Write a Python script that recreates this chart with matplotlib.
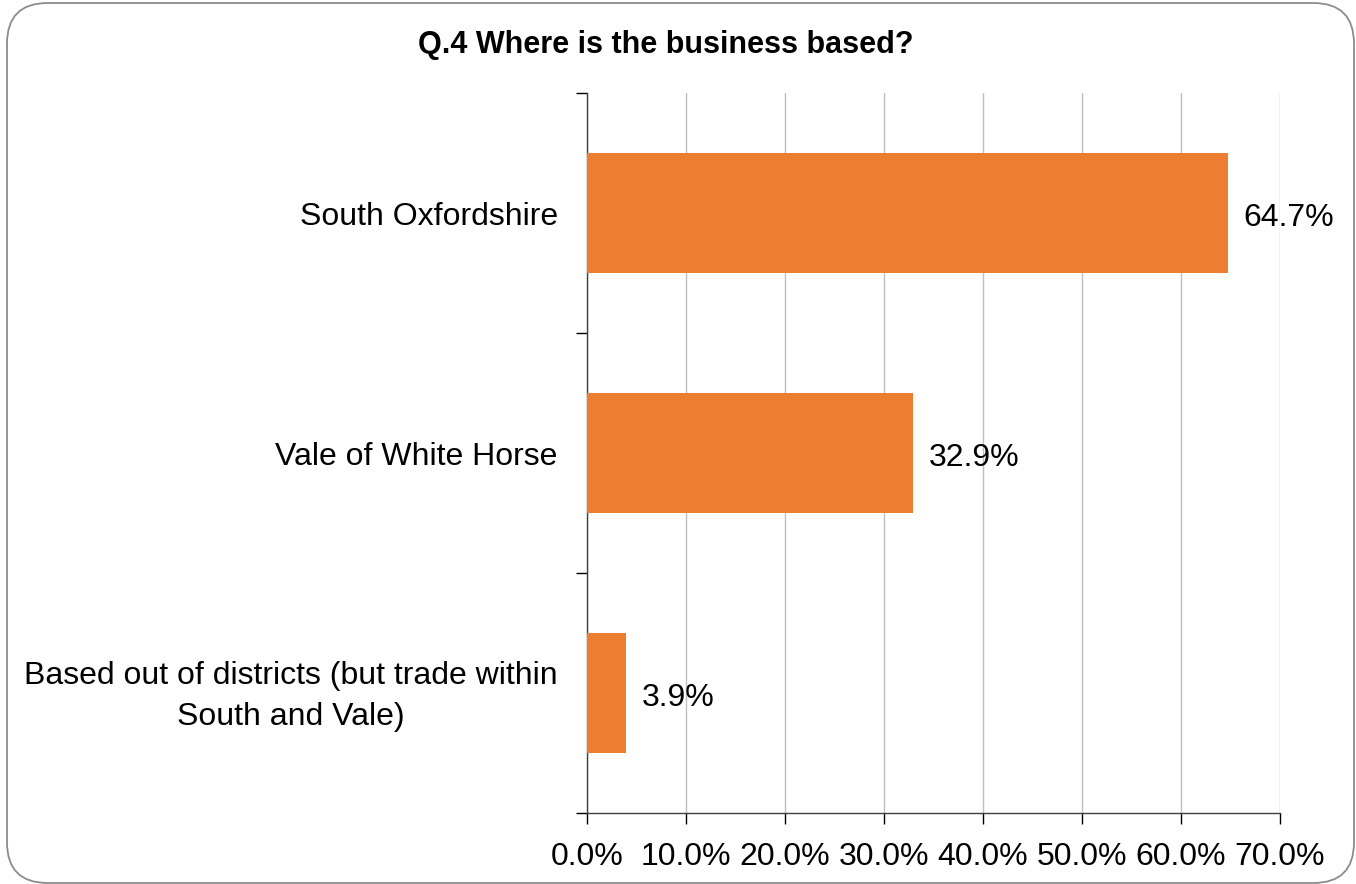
import matplotlib
matplotlib.use("Agg")
import matplotlib.pyplot as plt
from matplotlib.patches import FancyBboxPatch

plt.rcParams['font.family'] = ['Liberation Sans', 'DejaVu Sans']

categories = ["South Oxfordshire", "Vale of White Horse",
              "Based out of districts (but trade within\nSouth and Vale)"]
values = [64.7, 32.9, 3.9]
x_ticks = [0, 10, 20, 30, 40, 50, 60, 70]
x_tick_labels = [f"{t:.1f}%" for t in x_ticks]
title = "Q.4 Where is the business based?"

W, H = 1356, 884
fig = plt.figure(figsize=(W / 100, H / 100), dpi=100)

# rounded chart frame
frame = FancyBboxPatch((7 / W, 1 / H), (1354 - 7) / W, (881 - 1) / H,
                       boxstyle="round,pad=0,rounding_size=0.03",
                       transform=fig.transFigure, facecolor="none",
                       edgecolor="#8c8c8c", linewidth=1.3, zorder=0,
                       mutation_aspect=W / H)
fig.patches.append(frame)

left, right, top, bottom = 587, 1280, 93, 813
ax = fig.add_axes([left / W, 1 - bottom / H, (right - left) / W, (bottom - top) / H])
ax.set_facecolor("none")

ypos = list(range(len(categories)))
ax.barh(ypos, values, height=0.5, color="#ED7D31", zorder=3)
ax.set_ylim(len(categories) - 0.5, -0.5)
ax.set_xlim(0, 70)

for y, v in zip(ypos, values):
    ax.text(v + 1.65, y + 0.02, f"{v:.1f}%", va="center", ha="left",
            fontsize=23, zorder=4)

ax.set_xticks(x_ticks)
ax.set_xticklabels(x_tick_labels, fontsize=23)
ax.tick_params(axis="x", length=8, width=1, direction="out", pad=13, colors="black")

ax.set_yticks([-0.5, 0.5, 1.5, 2.5])
ax.set_yticklabels([])
ax.tick_params(axis="y", length=8, width=1, direction="out")
for y, lab in zip(ypos, categories):
    ax.text(-2.95, y + 0.015, lab, ha="right", va="center", multialignment="center",
            linespacing=1.45, fontsize=23, transform=ax.transData)

ax.grid(axis="x", color="#bfbfbf", linewidth=1, zorder=0)
ax.set_axisbelow(True)
for side in ["top", "right"]:
    ax.spines[side].set_visible(False)
for side in ["left", "bottom"]:
    ax.spines[side].set_color("#404040")
    ax.spines[side].set_linewidth(1)

fig.text(666 / W, 1 - 45 / H, title, ha="center", va="center",
         fontsize=22, fontweight="bold")

fig.savefig("out.png", dpi=100)
